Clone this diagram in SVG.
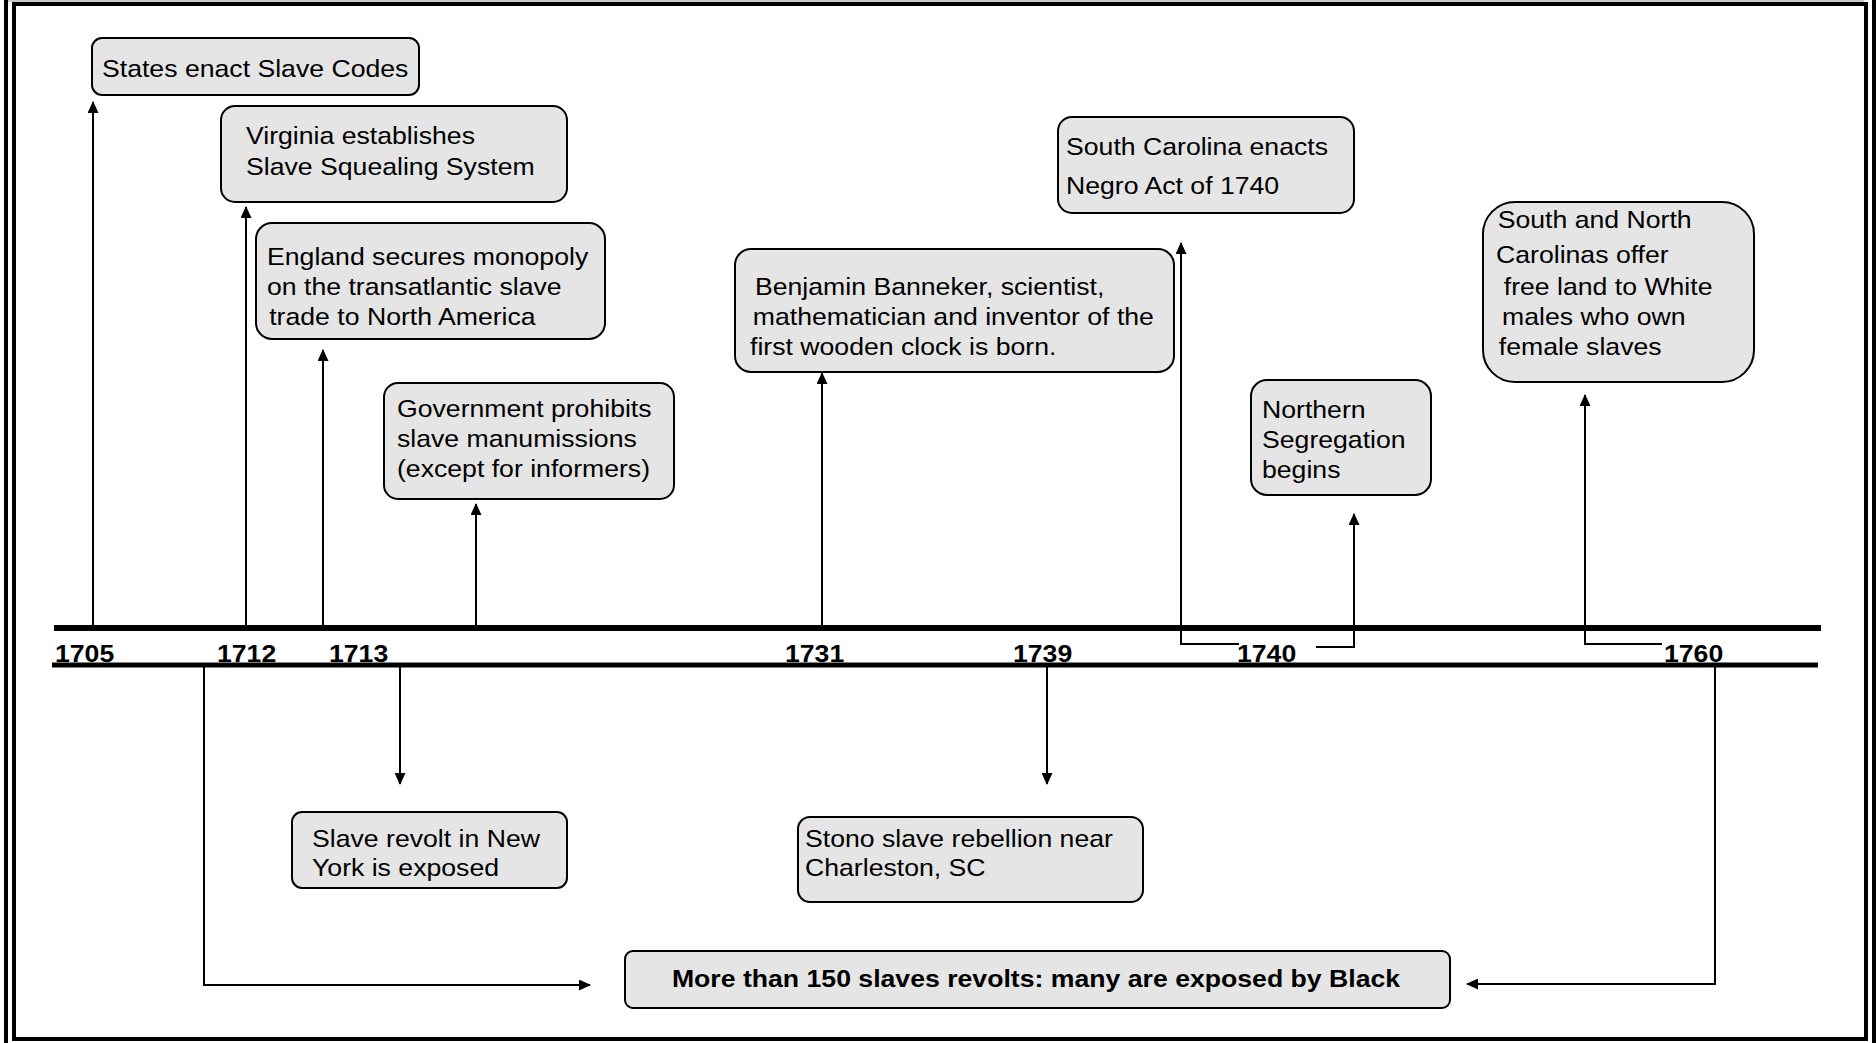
<svg xmlns="http://www.w3.org/2000/svg" width="1876" height="1043" viewBox="0 0 1876 1043">
  <defs>
    <style>
      .box { fill: #e5e5e5; stroke: #000; stroke-width: 2; }
      .lbl { font-family: "Liberation Sans", Arial, sans-serif; font-size: 24px; fill: #000; }
      .big { font-family: "Liberation Sans", Arial, sans-serif; font-size: 24px; font-weight: bold; fill: #000; }
      .year { font-family: "Liberation Sans", Arial, sans-serif; font-size: 24px; font-weight: bold; fill: #000; }
      .axis { stroke: #000; fill: none; }
      .conn { stroke: #000; stroke-width: 2; fill: none; marker-end: url(#arrow); }
    </style>
    <marker id="arrow" viewBox="0 0 12 11" refX="11" refY="5.5" markerWidth="12" markerHeight="11" markerUnits="userSpaceOnUse" orient="auto">
      <path d="M0,0 L12,5.5 L0,11 z" fill="#000"/>
    </marker>
  </defs>

  <!-- page frame -->
  <rect x="0" y="0" width="1876" height="1043" fill="#fff"/>
  <g id="frame">
    <rect x="8" y="0" width="1856" height="2" fill="#c8c8c8"/>
    <rect x="14" y="4" width="1852" height="1035" fill="none" stroke="#000" stroke-width="4"/>
    <line x1="6" y1="0" x2="6" y2="1043" stroke="#000" stroke-width="4"/>
    <line x1="1874" y1="0" x2="1874" y2="1043" stroke="#000" stroke-width="4"/>
  </g>

  <!-- timeline axis -->
  <g id="axis">
    <line class="axis" x1="54" y1="628" x2="1821" y2="628" stroke-width="6"/>
    <line class="axis" x1="52" y1="665" x2="1818" y2="665" stroke-width="5"/>
    <g class="year">
      <text transform="translate(55,662) scale(1.11,1)">1705</text>
      <text transform="translate(217,662) scale(1.11,1)">1712</text>
      <text transform="translate(329,662) scale(1.11,1)">1713</text>
      <text transform="translate(785,662) scale(1.11,1)">1731</text>
      <text transform="translate(1013,662) scale(1.11,1)">1739</text>
      <text transform="translate(1237,662) scale(1.11,1)">1740</text>
      <text transform="translate(1664,662) scale(1.11,1)">1760</text>
    </g>
  </g>

  <!-- connectors -->
  <g id="connectors">
    <path class="conn" d="M93,628 V102"/>
    <path class="conn" d="M246,628 V207"/>
    <path class="conn" d="M323,628 V350"/>
    <path class="conn" d="M476,628 V504"/>
    <path class="conn" d="M822,628 V373"/>
    <path class="conn" d="M1239,644 H1181 V243"/>
    <path class="conn" d="M1316,647 H1354 V514"/>
    <path class="conn" d="M1662,644 H1585 V395"/>
    <path class="conn" d="M1047,665 V784"/>
    <path class="conn" d="M400,665 V784"/>
    <path class="conn" d="M204,665 V985 H590"/>
    <path class="conn" d="M1715,665 V984 H1467"/>
  </g>

  <!-- events above the axis -->
  <g id="slave-codes">
    <rect class="box" x="92" y="38" width="327" height="57" rx="10"/>
    <text class="lbl" transform="translate(102,77) scale(1.11,1)">States enact Slave Codes</text>
  </g>

  <g id="squealing-system">
    <rect class="box" x="221" y="106" width="346" height="96" rx="14"/>
    <text class="lbl" transform="translate(246,144) scale(1.11,1)">
      <tspan x="0" y="0">Virginia establishes</tspan>
      <tspan x="0" y="31">Slave Squealing System</tspan>
    </text>
  </g>

  <g id="england-monopoly">
    <rect class="box" x="256" y="223" width="349" height="116" rx="16"/>
    <text class="lbl" transform="translate(267,265) scale(1.11,1)">
      <tspan x="0" y="0">England secures monopoly</tspan>
      <tspan x="0" y="30">on the transatlantic slave</tspan>
      <tspan x="2" y="60">trade to North America</tspan>
    </text>
  </g>

  <g id="manumissions">
    <rect class="box" x="384" y="383" width="290" height="116" rx="14"/>
    <text class="lbl" transform="translate(397,417) scale(1.11,1)">
      <tspan x="0" y="0">Government prohibits</tspan>
      <tspan x="0" y="30">slave manumissions</tspan>
      <tspan x="0" y="60">(except for informers)</tspan>
    </text>
  </g>

  <g id="banneker">
    <rect class="box" x="735" y="249" width="439" height="123" rx="16"/>
    <text class="lbl" transform="translate(750,295) scale(1.11,1)">
      <tspan x="4.5" y="0">Benjamin Banneker, scientist,</tspan>
      <tspan x="2.5" y="30">mathematician and inventor of the</tspan>
      <tspan x="0" y="60">first wooden clock is born.</tspan>
    </text>
  </g>

  <g id="negro-act">
    <rect class="box" x="1058" y="117" width="296" height="96" rx="14"/>
    <text class="lbl" transform="translate(1066,155) scale(1.11,1)">
      <tspan x="0" y="0">South Carolina enacts</tspan>
      <tspan x="0" y="39">Negro Act of 1740</tspan>
    </text>
  </g>

  <g id="northern-segregation">
    <rect class="box" x="1251" y="380" width="180" height="115" rx="16"/>
    <text class="lbl" transform="translate(1262,418) scale(1.11,1)">
      <tspan x="0" y="0">Northern</tspan>
      <tspan x="0" y="30">Segregation</tspan>
      <tspan x="0" y="60">begins</tspan>
    </text>
  </g>

  <g id="free-land">
    <rect class="box" x="1483" y="202" width="271" height="180" rx="32"/>
    <text class="lbl" transform="translate(1496,228) scale(1.11,1)">
      <tspan x="1.5" y="0">South and North</tspan>
      <tspan x="0" y="35">Carolinas offer</tspan>
      <tspan x="7" y="67">free land to White</tspan>
      <tspan x="5.5" y="97">males who own</tspan>
      <tspan x="2.5" y="127">female slaves</tspan>
    </text>
  </g>

  <!-- events below the axis -->
  <g id="new-york-revolt">
    <rect class="box" x="292" y="812" width="275" height="76" rx="10"/>
    <text class="lbl" transform="translate(312,847) scale(1.11,1)">
      <tspan x="0" y="0">Slave revolt in New</tspan>
      <tspan x="0" y="29">York is exposed</tspan>
    </text>
  </g>

  <g id="stono-rebellion">
    <rect class="box" x="798" y="817" width="345" height="85" rx="12"/>
    <text class="lbl" transform="translate(805,847) scale(1.11,1)">
      <tspan x="0" y="0">Stono slave rebellion near</tspan>
      <tspan x="0" y="29">Charleston, SC</tspan>
    </text>
  </g>

  <g id="revolts-exposed">
    <rect class="box" x="625" y="951" width="825" height="57" rx="8"/>
    <text class="big" text-anchor="middle" transform="translate(1036,987) scale(1.11,1)">More than 150 slaves revolts: many are exposed by Black</text>
  </g>
</svg>
